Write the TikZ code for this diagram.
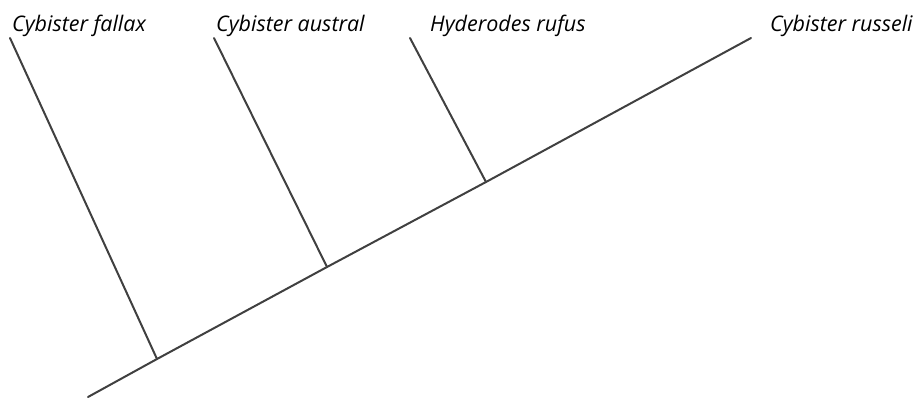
\documentclass[tikz,border=0pt]{standalone}
\usepackage{fontspec}
\setmainfont{Open Sans}
\definecolor{branchgray}{HTML}{404040}
\begin{document}
\begin{tikzpicture}[x=1pt,y=-1pt,line cap=round,line join=round,
  branch/.style={draw=branchgray,line width=2pt},
  taxon/.style={anchor=base west,inner sep=0pt,font=\fontsize{21.5}{24}\selectfont\itshape}]
  \useasboundingbox (0,0) rectangle (919,397);
  \coordinate (root) at (88,397);
  \coordinate (j1) at (157,359);
  \coordinate (j2) at (327,267);
  \coordinate (j3) at (486,182);
  \coordinate (tip4) at (751,38);
  \coordinate (tip1) at (10,38);
  \coordinate (tip2) at (214,38);
  \coordinate (tip3) at (410,38);
  \draw[branch] (root) -- (j1) -- (j2) -- (j3) -- (tip4);
  \draw[branch] (j1) -- (tip1);
  \draw[branch] (j2) -- (tip2);
  \draw[branch] (j3) -- (tip3);
  \node[taxon] (fallax) at (12,31) {Cybister fallax};
  \node[taxon] (austral) at (216,31) {Cybister austral};
  \node[taxon] (rufus) at (430,31) {Hyderodes rufus};
  \node[taxon] (russeli) at (770,31) {Cybister russeli};
\end{tikzpicture}
\end{document}
